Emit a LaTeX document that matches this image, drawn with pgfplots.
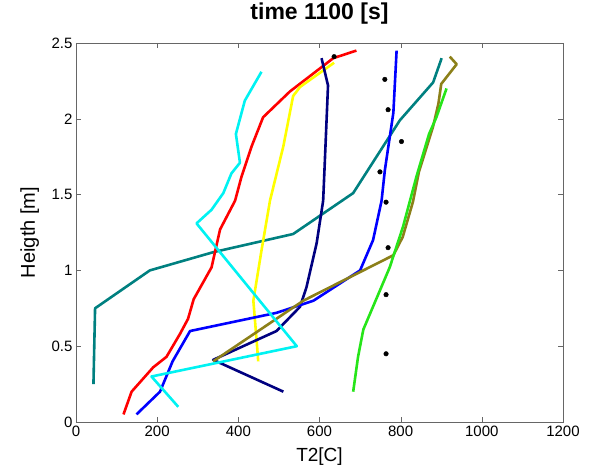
\documentclass[border=0pt]{standalone}
\usepackage{pgfplots}
\pgfplotsset{compat=1.18}
\usepackage{fontspec}
\setmainfont{Liberation Sans}
\definecolor{cteal}{rgb}{0,0.5,0.5}
\definecolor{colive}{rgb}{0.55,0.5,0.1}
\definecolor{cgreen}{rgb}{0.15,0.9,0.1}
\definecolor{cnavy}{rgb}{0,0,0.5}
\definecolor{ccyan}{rgb}{0,0.95,0.95}
\definecolor{cyellow}{rgb}{1,1,0}
\definecolor{cblue}{rgb}{0,0,1}
\definecolor{cred}{rgb}{1,0,0}
\begin{document}
\begin{tikzpicture}
\path[use as bounding box] (-76pt,-49pt) rectangle (519pt,422pt);
\begin{axis}[
  at={(0,0)}, anchor=south west,
  scale only axis, width=487pt, height=379pt,
  xmin=0, xmax=1200, ymin=0, ymax=2.5,
  xtick={0,200,...,1200}, ytick={0,0.5,1,1.5,2,2.5},
  tick align=inside, xtick pos=both, ytick pos=both,
  major tick length=5pt,
  axis line style={black!60},
  tick style={black!60},
  ticklabel style={font=\fontsize{15}{18}\selectfont},
  /pgf/number format/assume math mode=true,
  /pgf/number format/set thousands separator={},
  title={time 1100 [s]},
  title style={font=\fontsize{23}{27}\selectfont\bfseries, at={(axis description cs:0.5,1.0449)}, anchor=base},
  xlabel={T2[C]},
  xlabel style={font=\fontsize{19}{23}\selectfont, at={(axis description cs:0.5,-0.1055)}, anchor=base},
  ylabel={Heigth [m]},
  ylabel style={font=\fontsize{20}{24}\selectfont, at={(axis description cs:-0.0842,0.5)}, anchor=base},
  every axis plot/.append style={line width=2.6pt, line join=round, mark=none},
]
\addplot[cteal] coordinates {(43,0.25) (47,0.75) (182,1.00) (338,1.12) (535,1.24) (683,1.51) (798,1.99) (880,2.24) (901,2.40)};
\addplot[cred] coordinates {(117,0.05) (137,0.20) (190,0.36) (223,0.43) (256,0.58) (276,0.68) (290,0.81) (334,1.02) (355,1.27) (392,1.46) (408,1.62) (433,1.82) (461,2.01) (527,2.18) (634,2.40) (691,2.45)};
\addplot[cyellow] coordinates {(449,0.40) (445,0.54) (437,0.80) (457,1.13) (478,1.46) (511,1.82) (535,2.15) (552,2.21) (636,2.37)};
\addplot[cnavy] coordinates {(511,0.20) (338,0.41) (494,0.60) (552,0.76) (568,0.89) (593,1.18) (609,1.46) (613,1.71) (621,2.22) (605,2.40)};
\addplot[cblue] coordinates {(149,0.05) (207,0.20) (238,0.40) (281,0.60) (494,0.72) (585,0.80) (700,1.00) (732,1.20) (753,1.46) (761,1.66) (782,2.04) (790,2.45)};
\addplot[colive] coordinates {(338,0.40) (560,0.80) (782,1.10) (805,1.22) (830,1.45) (845,1.65) (880,1.95) (893,2.10) (900,2.23) (938,2.36) (921,2.41)};
\addplot[cgreen] coordinates {(683,0.20) (695,0.43) (708,0.61) (773,1.02) (806,1.29) (823,1.46) (839,1.62) (870,1.90) (888,2.01) (913,2.20)};
\addplot[ccyan] coordinates {(457,2.31) (416,2.12) (394,1.90) (404,1.71) (383,1.64) (363,1.51) (334,1.40) (297,1.31) (544,0.50) (186,0.30) (252,0.10)};
\addplot[only marks, mark=*, mark size=2.3pt, black, line width=0.4pt] coordinates {(636,2.41) (761,2.26) (769,2.06) (802,1.85) (749,1.65) (764,1.45) (769,1.15) (764,0.84) (764,0.45)};
\end{axis}
\end{tikzpicture}
\end{document}
